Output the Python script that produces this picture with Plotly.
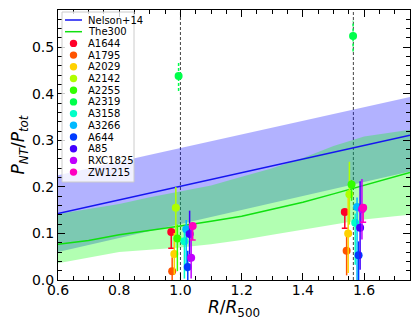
import plotly.graph_objects as go

# ---- data ----
clusters = ["A1644", "A1795", "A2029", "A2142", "A2255", "A2319",
            "A3158", "A3266", "A644", "A85", "RXC1825", "ZW1215"]

# inner aperture (~R500)
r_in = [0.970, 0.973, 0.980, 0.985, 0.990, 0.994, 1.013, 1.019, 1.024, 1.030, 1.035, 1.040]
p_in = [0.103, 0.019, 0.056, 0.155, 0.089, 0.438, 0.083, 0.109, 0.028, 0.099, 0.048, 0.116]
p_in_up = [0.005, 0.030, 0.045, 0.045, 0.030, 0.030, 0.030, 0.020, 0.035, 0.050, 0.070, 0.005]
p_in_lo = [0.035, 0.040, 0.045, 0.065, 0.070, 0.032, 0.080, 0.090, 0.035, 0.060, 0.045, 0.030]

# outer aperture
r_out = [1.537, 1.543, 1.548, 1.552, 1.559, 1.564, 1.571, 1.577, 1.582, 1.587, 1.593, 1.597]
p_out = [0.146, 0.063, 0.100, 0.184, 0.205, 0.524, 0.123, 0.157, 0.053, 0.112, 0.152, 0.155]
p_out_up = [0.005, 0.043, 0.088, 0.070, 0.010, 0.033, 0.020, 0.020, 0.030, 0.100, 0.065, 0.005]
p_out_lo = [0.035, 0.053, 0.085, 0.065, 0.035, 0.033, 0.090, 0.160, 0.060, 0.090, 0.065, 0.031]

# simulation profiles
r_nelson = [0.6, 0.8, 1.0, 1.2, 1.4, 1.6, 1.75]
nelson = [0.143, 0.172, 0.201, 0.230, 0.259, 0.289, 0.311]
nelson_hi = [0.225, 0.254, 0.283, 0.313, 0.342, 0.371, 0.393]
nelson_lo = [0.060, 0.090, 0.120, 0.150, 0.180, 0.210, 0.233]

r_300 = [0.6, 0.7, 0.8, 0.9, 1.0, 1.1, 1.2, 1.3, 1.4, 1.5, 1.6, 1.7, 1.75]
the300 = [0.077, 0.085, 0.097, 0.106, 0.116, 0.126, 0.137, 0.152, 0.167, 0.185, 0.203, 0.222, 0.231]
the300_hi = [0.142, 0.152, 0.163, 0.178, 0.190, 0.203, 0.222, 0.240, 0.262, 0.288, 0.308, 0.318, 0.323]
the300_lo = [0.036, 0.048, 0.060, 0.065, 0.070, 0.077, 0.086, 0.097, 0.108, 0.120, 0.130, 0.137, 0.140]

apertures = [1.0, 1.565]

# gist_rainbow, 12 steps
colors = ["#ff0029", "#ff5400", "#ffd100", "#afff00", "#32ff00", "#00ff4b",
          "#00ffc7", "#00b9ff", "#003bff", "#4300ff", "#c100ff", "#ff00bf"]
capped = {"A1644", "ZW1215"}
dashed_err = {"A2319"}

FONT = "DejaVu Sans"
W, H = 415, 320
ML, MR, MT, MB = 58, 5, 10, 40

fig = go.Figure()

# bands
fig.add_trace(go.Scatter(x=r_nelson, y=nelson_hi, mode="lines", line=dict(width=0),
                         showlegend=False, hoverinfo="skip"))
fig.add_trace(go.Scatter(x=r_nelson, y=nelson_lo, mode="lines", line=dict(width=0),
                         fill="tonexty", fillcolor="rgba(0,0,255,0.3)",
                         showlegend=False, hoverinfo="skip"))
fig.add_trace(go.Scatter(x=r_300, y=the300_hi, mode="lines", line=dict(width=0),
                         showlegend=False, hoverinfo="skip"))
fig.add_trace(go.Scatter(x=r_300, y=the300_lo, mode="lines", line=dict(width=0),
                         fill="tonexty", fillcolor="rgba(0,255,0,0.3)",
                         showlegend=False, hoverinfo="skip"))
fig.add_trace(go.Scatter(x=r_nelson, y=nelson, mode="lines", name="Nelson+14",
                         line=dict(color="#1515f0", width=1.5), showlegend=False))
fig.add_trace(go.Scatter(x=r_300, y=the300, mode="lines", name="The300",
                         line=dict(color="#10e010", width=1.5), showlegend=False))

for v in apertures:
    fig.add_vline(x=v, line=dict(color="#444444", width=1, dash="3px,2px"), layer="below")

# clusters
for i, name in enumerate(clusters):
    xs = [r_in[i], r_out[i]]
    ys = [p_in[i], p_out[i]]
    up = [p_in_up[i], p_out_up[i]]
    lo = [p_in_lo[i], p_out_lo[i]]
    c = colors[i]
    if name in dashed_err:
        ex, ey = [], []
        for x, y, u, l in zip(xs, ys, up, lo):
            ex += [x, x, None]
            ey += [y - l, y + u, None]
        fig.add_trace(go.Scatter(x=ex, y=ey, mode="lines", showlegend=False,
                                 line=dict(color=c, width=1.5, dash="3px,2px"), hoverinfo="skip"))
        err = dict(visible=False)
    else:
        err = dict(type="data", symmetric=False, array=up, arrayminus=lo, color=c,
                   thickness=1.5, width=3 if name in capped else 0)
    fig.add_trace(go.Scatter(x=xs, y=ys, mode="markers", name=name, showlegend=False,
                             marker=dict(color=c, size=8, line=dict(width=0)),
                             error_y=err))

# hand-made legend (plotly's own has a 19px minimum row height)
pw, ph = W - ML - MR, H - MT - MB


def px(x):
    return (x - ML) / pw


def py(y):
    return (H - MB - y) / ph


shapes = [dict(type="rect", xref="paper", yref="paper", x0=px(62), x1=px(134),
               y0=py(182), y1=py(12), line=dict(color="#cccccc", width=1),
               fillcolor="rgba(255,255,255,0.8)", layer="above")]
annotations = []
entries = [("Nelson+14", "#1515f0", "line"), ("The300", "#10e010", "line")]
entries += [(n, c, "dot") for n, c in zip(clusters, colors)]
for k, (label, c, kind) in enumerate(entries):
    yc = 20 + 11.7 * k
    if kind == "line":
        shapes.append(dict(type="line", xref="paper", yref="paper", x0=px(65), x1=px(82),
                           y0=py(yc), y1=py(yc), line=dict(color=c, width=1.5), layer="above"))
    else:
        shapes.append(dict(type="circle", xref="paper", yref="paper",
                           xsizemode="pixel", ysizemode="pixel",
                           xanchor=px(73.5), yanchor=py(yc), x0=-3.7, x1=3.7, y0=-3.7, y1=3.7,
                           fillcolor=c, line=dict(width=0), layer="above"))
    annotations.append(dict(text=label, xref="paper", yref="paper", x=px(86), y=py(yc),
                            xanchor="left", yanchor="middle", showarrow=False,
                            font=dict(family=FONT, size=10, color="black")))

axis = dict(showline=True, linecolor="black", linewidth=1, mirror="allticks",
            ticks="inside", ticklen=7, tickwidth=1, tickcolor="black",
            showgrid=False, zeroline=False, automargin=False,
            tickfont=dict(family=FONT, size=14, color="black"))

fig.update_layout(
    width=W, height=H,
    margin=dict(l=ML, r=MR, t=MT, b=MB),
    paper_bgcolor="white", plot_bgcolor="white",
    showlegend=False,
    shapes=list(fig.layout.shapes) + shapes,
    annotations=annotations,
    xaxis=dict(axis, range=[0.6, 1.75], dtick=0.2, tick0=0.6, tickformat=".1f",
               ticklabelstandoff=-3,
               minor=dict(ticks="inside", ticklen=4, dtick=0.05, tick0=0.6, tickcolor="black"),
               title=dict(text="<i>R</i>/<i>R</i><sub>500</sub>", standoff=0,
                          font=dict(family=FONT, size=17, color="black"))),
    yaxis=dict(axis, range=[0, 0.58], dtick=0.1, tickformat=".1f",
               minor=dict(ticks="inside", ticklen=4, dtick=0.02, tickcolor="black"),
               title=dict(text="<i>P</i><sub><i>NT</i></sub>/<i>P</i><sub><i>tot</i></sub>",
                          standoff=2, font=dict(family=FONT, size=17, color="black"))),
)

fig.write_html("out.html", config={"displayModeBar": False},
               post_script="document.body.style.margin='0';")
